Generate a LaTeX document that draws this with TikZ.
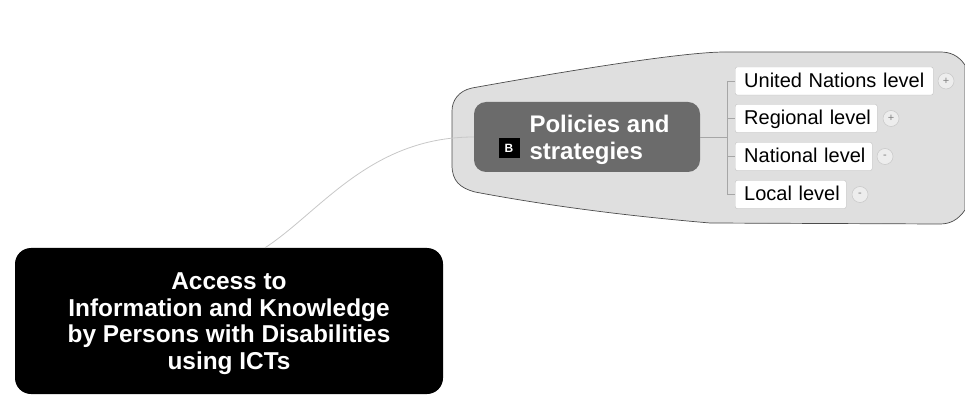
\documentclass[tikz,border=0pt]{standalone}
\usepackage{fontspec}
\setmainfont{Liberation Sans}
\usetikzlibrary{calc}

\definecolor{cloudfill}{gray}{0.875}
\definecolor{branchfill}{gray}{0.42}
\tikzset{
    rootbox/.style={fill=black, rounded corners=16pt, minimum width=428pt, minimum height=146pt},
    roottext/.style={text=white, align=center, font=\bfseries\fontsize{24.4}{26.5}\selectfont},
    branchbox/.style={fill=branchfill, rounded corners=12pt, minimum width=226pt, minimum height=70pt},
    levelbox/.style={fill=white, draw=black!25, line width=0.4pt, rounded corners=2pt, anchor=west, minimum height=28pt, inner xsep=0pt, text height=15.5pt, text depth=2.5pt, font=\fontsize{20}{20}\selectfont},
    foldmark/.style={circle, fill=white!93!black, draw=black!22, line width=0.5pt, minimum size=16pt, inner sep=0pt, text=black!50, font=\fontsize{11}{11}\selectfont},
    link/.style={draw=black!22, line width=0.8pt}
}

\begin{document}
\begin{tikzpicture}[x=1pt, y=1pt]
    \useasboundingbox (0,0) rectangle (965,407);

    % cloud behind the branch
    \draw [fill=cloudfill, draw=black!70, line width=0.7pt] (965,342)
        .. controls (958,352) and (950,355) .. (940,355)
        -- (725,355)
        .. controls (690,355) and (600,342) .. (472,319)
        .. controls (458,316) and (452,306) .. (452,296)
        -- (452,242)
        .. controls (452,226) and (460,219) .. (475,215)
        .. controls (560,199) and (640,190) .. (710,184)
        -- (940,183)
        .. controls (950,183) and (958,187) .. (965,197)
        -- cycle;

    \node (root) [rootbox] at (229,86) {};
    \node (roottitle) [roottext] at (229,83.5) {Access to\\Information and Knowledge\\by Persons with Disabilities\\using ICTs};
    \node (policies) [branchbox] at (587,270) {};
    \node (policiestext) [anchor=west, align=left, text=white, font=\bfseries\fontsize{24}{27}\selectfont] at (526,267) {Policies and\\strategies};
    \node (marker) [fill=black, text=white, minimum width=21pt, minimum height=20pt, inner sep=0pt, font=\bfseries\fontsize{12}{12}\selectfont] at (509,259) {B};

    \node (un) [levelbox, minimum width=198pt, text width=198pt, align=left] at (735,326) {\hspace{9pt}United Nations level};
    \node (regional) [levelbox, minimum width=142pt, text width=142pt, align=left] at (735,288.5) {\hspace{9pt}Regional level};
    \node (national) [levelbox, minimum width=137pt, text width=137pt, align=left] at (735,250.5) {\hspace{9pt}National level};
    \node (local) [levelbox, minimum width=111pt, text width=111pt, align=left] at (735,212.5) {\hspace{9pt}Local level};

    \node (unfold) [foldmark] at (946,326) {+};
    \node (regionalfold) [foldmark] at (891,288.5) {+};
    \node (nationalfold) [foldmark] at (885,250.5) {-};
    \node (localfold) [foldmark] at (860,212.5) {-};

    \coordinate (rootend) at ($(root.north)+(36,0)$);
    \coordinate (bus) at ($(policies.east)+(27,0)$);
    \draw [link] (rootend) .. controls (320,195) and (370,270) .. (policies.west);
    \draw [link, draw=black!35] (policies.east) -- (bus);
    \foreach \level in {un,regional,national,local}
        \draw [link, draw=black!35, line width=0.5pt] (bus) |- (\level.west);
\end{tikzpicture}
\end{document}
